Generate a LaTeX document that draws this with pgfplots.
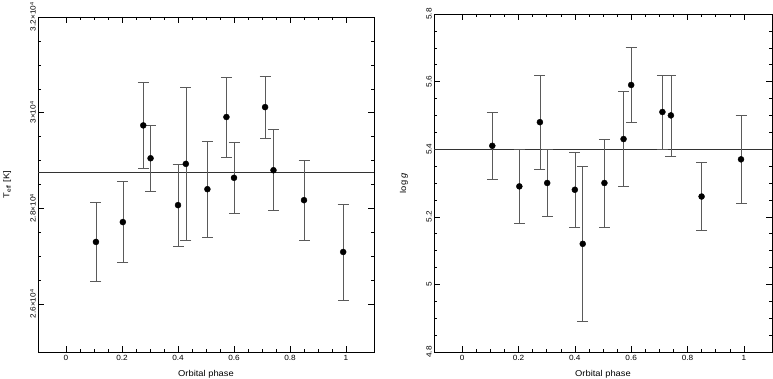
\documentclass[border=0pt]{standalone}
\usepackage{fontspec}
\setmainfont[FakeStretch=1.1]{Liberation Sans}
\usepackage{pgfplots}
\usepackage{pgfplotstable}
\pgfplotsset{compat=1.18}

% phase, Teff, error
\pgfplotstableread{
x y e
0.107 27300 830
0.203 27715 850
0.276 29735 905
0.302 29048 698
0.400 28069 855
0.428 28931 1600
0.505 28402 1000
0.573 29910 833
0.600 28640 750
0.711 30117 650
0.741 28798 845
0.850 28173 843
0.990 27090 1005
}\teff

% phase, log g, error
\pgfplotstableread{
x y e
0.107 5.41 0.10
0.203 5.29 0.11
0.276 5.48 0.14
0.302 5.30 0.10
0.400 5.28 0.11
0.428 5.12 0.23
0.505 5.30 0.13
0.573 5.43 0.14
0.600 5.59 0.11
0.711 5.51 0.11
0.741 5.50 0.12
0.850 5.26 0.10
0.990 5.37 0.13
}\logg

\definecolor{barc}{HTML}{5A5A5A}
\newcommand{\tk}[1]{#1×10\raisebox{0.55ex}{\fontsize{5}{5}\selectfont 4}}

\pgfplotsset{
  panel/.style={
    scale only axis,
    anchor=south west,
    xmin=-0.1,xmax=1.1,
    xtick={0,0.2,0.4,0.6,0.8,1},
    xticklabels={0,0.2,0.4,0.6,0.8,1},
    minor x tick num=3,
    scaled ticks=false,
    tick align=inside,
    major tick length=6pt,
    minor tick length=3pt,
    every tick/.style={black,line width=0.5pt},
    axis line style={black,line width=0.7pt},
    tick label style={font=\fontsize{7.5}{8}\selectfont},
    label style={font=\fontsize{8.5}{9}\selectfont},
    yticklabel style={rotate=90,anchor=south,inner sep=2pt},
    xticklabel style={inner sep=3pt},
    xlabel={Orbital phase},
    xlabel style={at={(axis description cs:0.5,-0.066)},anchor=center},
    clip=false,
  },
  pts/.style={
    only marks,
    mark=*,
    mark size=3pt,
    mark options={black,fill=black},
    error bars/.cd,
      y dir=both, y explicit,
      error bar style={barc,line width=0.6pt},
      error mark options={rotate=90,barc,line width=0.6pt,mark size=5.5pt},
  },
}

\begin{document}
\begin{tikzpicture}
\useasboundingbox (0,0) rectangle (773pt,379pt);

\begin{axis}[panel,
  at={(38pt,27pt)},
  width=336pt,height=335pt,
  ymin=25000,ymax=32000,
  ytick={26000,28000,30000,32000},
  yticklabels={\tk{2.6},\tk{2.8},\tk{3},\tk{3.2}},
  minor y tick num=3,
  ylabel={T\textsubscript{eff} [K]},
  ylabel style={at={(axis description cs:-0.092,0.5)},anchor=center},
]
\addplot[black!80,line width=0.6pt] coordinates {(-0.1,28750) (1.1,28750)};
\addplot[pts] table[x=x,y=y,y error=e] {\teff};
\end{axis}

\begin{axis}[panel,
  at={(434pt,27pt)},
  width=338pt,height=338pt,
  ymin=4.8,ymax=5.8,
  ytick={4.8,5,5.2,5.4,5.6,5.8},
  yticklabels={4.8,5,5.2,5.4,5.6,5.8},
  minor y tick num=3,
  ylabel={log \textit{g}},
  ylabel style={at={(axis description cs:-0.089,0.5)},anchor=center},
]
\addplot[black!80,line width=0.6pt] coordinates {(-0.1,5.4) (1.1,5.4)};
\addplot[pts] table[x=x,y=y,y error=e] {\logg};
\end{axis}
\end{tikzpicture}
\end{document}
